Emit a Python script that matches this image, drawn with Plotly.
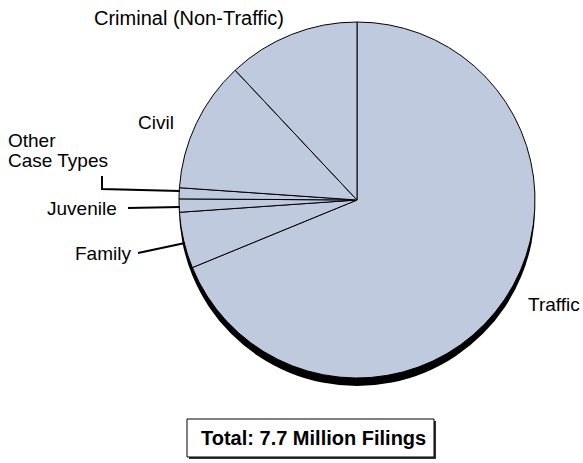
import plotly.graph_objects as go

# ---- data (percent of total filings) ----
categories = ["Traffic", "Family", "Juvenile", "Other Case Types", "Civil", "Criminal (Non-Traffic)"]
shares = [68.8, 5.1, 1.2, 1.0, 11.9, 12.0]
total_label = "Total: 7.7 Million Filings"

W, H = 583, 463
CX, CY, R = 357, 200, 178
SHADOW = 8

def px(x):
    return x / W

def py(y):
    return 1 - y / H

FILL = "#BFCADF"
FONT = "Liberation Sans, Arial, Helvetica, sans-serif"

fig = go.Figure()

# shadow disc
fig.add_trace(go.Pie(
    values=[1], labels=["shadow"], sort=False,
    marker=dict(colors=["black"], line=dict(width=0)),
    textinfo="none", hoverinfo="skip", showlegend=False,
    domain=dict(x=[px(CX - R), px(CX + R)], y=[py(CY + R + SHADOW), py(CY - R + SHADOW)]),
))

# main pie
fig.add_trace(go.Pie(
    values=shares, labels=categories, sort=False, direction="clockwise", rotation=0,
    marker=dict(colors=[FILL] * len(shares), line=dict(color="black", width=1)),
    textinfo="none", hoverinfo="label+percent", showlegend=False,
    domain=dict(x=[px(CX - R), px(CX + R)], y=[py(CY + R), py(CY - R)]),
))

def ann(text, x, y, xanchor="center", bold=False, size=19):
    fig.add_annotation(
        text=f"<b>{text}</b>" if bold else text,
        x=px(x), y=py(y), xref="paper", yref="paper",
        xanchor=xanchor, yanchor="middle", showarrow=False,
        font=dict(family=FONT, size=size, color="black"),
    )

ann("Criminal (Non-Traffic)", 189, 18, size=20)
ann("Civil", 156, 122)
ann("Other", 6, 140, "left")
ann("Case Types", 6, 161, "left")
ann("Juvenile", 119, 208, "right")
ann("Family", 133, 253, "right")
ann("Traffic", 526, 304, "left")

shapes = []
line = dict(color="black", width=2)
# leader lines
shapes.append(dict(type="path", xref="paper", yref="paper",
                   path=f"M {px(102)} {py(176)} L {px(102)} {py(189)} L {px(180)} {py(191)}",
                   line=line))
shapes.append(dict(type="line", xref="paper", yref="paper",
                   x0=px(128), y0=py(208), x1=px(180), y1=py(207), line=line))
shapes.append(dict(type="line", xref="paper", yref="paper",
                   x0=px(138), y0=py(253), x1=px(185), y1=py(243), line=line))
# total box with shadow
shapes.append(dict(type="rect", xref="paper", yref="paper",
                   x0=px(189), y0=py(421), x1=px(436), y1=py(459),
                   fillcolor="#333333", line=dict(width=0)))
shapes.append(dict(type="rect", xref="paper", yref="paper",
                   x0=px(187), y0=py(419), x1=px(434), y1=py(457),
                   fillcolor="white", line=dict(color="black", width=1)))
fig.update_layout(shapes=shapes)

ann(total_label, 313, 438, bold=True, size=20)

fig.update_layout(
    width=W, height=H,
    margin=dict(l=0, r=0, t=0, b=0),
    paper_bgcolor="white", plot_bgcolor="white",
    showlegend=False,
)

fig.write_html(
    "out.html",
    config={"displayModeBar": False},
    post_script="document.body.style.margin='0';document.body.style.overflow='hidden';",
)
